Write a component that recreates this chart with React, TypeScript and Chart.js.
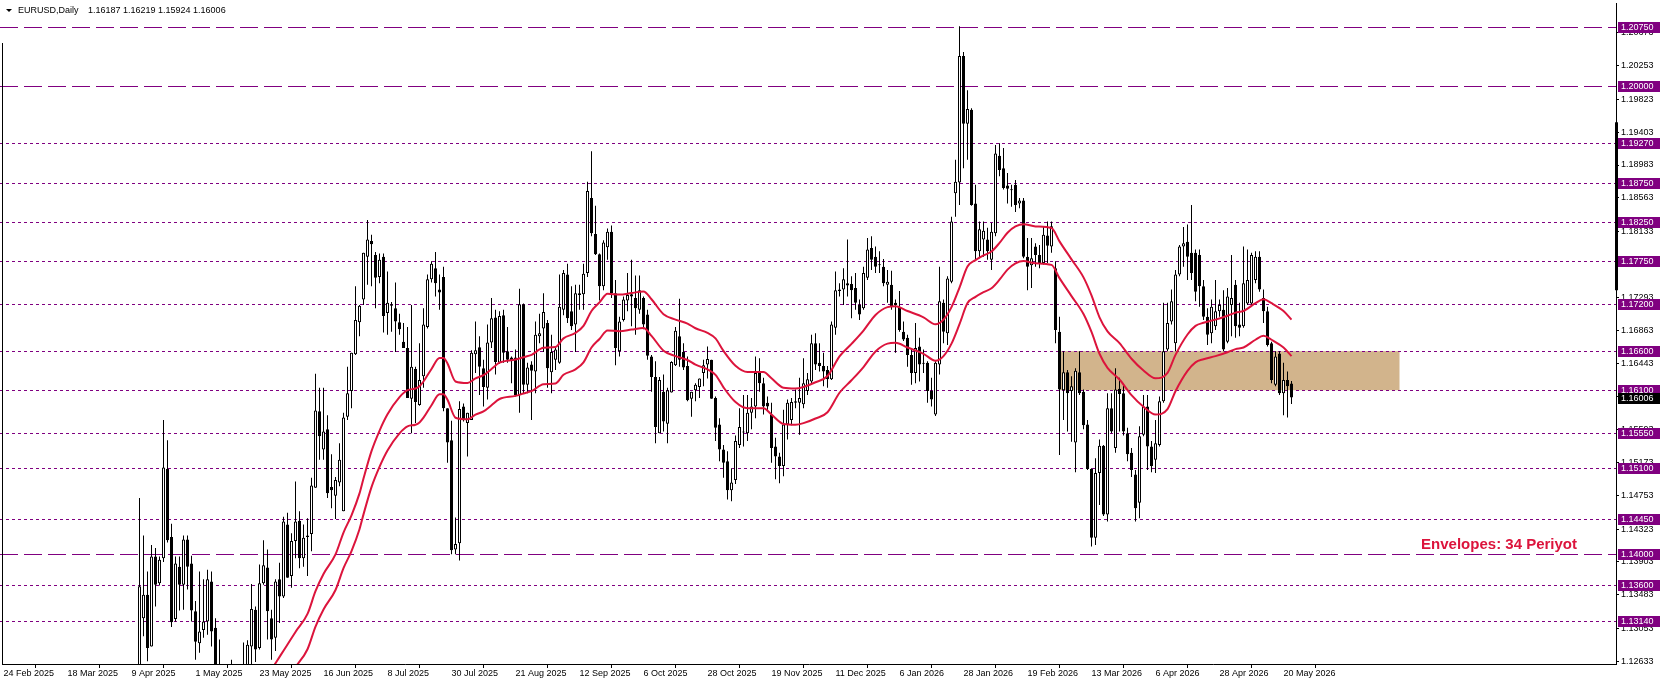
import React, { useEffect, useRef } from "react";
import { Chart, registerables } from "chart.js";

Chart.register(...registerables);

// ---------------- data ----------------
const FIRST_BAR = 34; // bar index of the first candle listed (bar 0 = 24 Feb 2025)

const opens = [
  1.1195, 1.1318, 1.1348, 1.1282, 1.1397, 1.1363, 1.1395, 1.1509, 1.1422, 1.1317,
  1.1384, 1.1361, 1.1419, 1.1388, 1.1327, 1.1286, 1.1303, 1.1314, 1.1365, 1.1306,
  1.1225, 1.1250, 1.1088, 1.1187, 1.1175, 1.1187, 1.1163, 1.1242, 1.1282, 1.1329,
  1.1280, 1.1363, 1.1383, 1.1318, 1.1293, 1.1368, 1.1346, 1.1438, 1.1372, 1.1417,
  1.1443, 1.1395, 1.1424, 1.1426, 1.1485, 1.1583, 1.1534, 1.1560, 1.1486, 1.1475,
  1.1492, 1.1455, 1.1576, 1.1609, 1.1656, 1.1697, 1.1726, 1.1781, 1.1801, 1.1783,
  1.1755, 1.1781, 1.1709, 1.1718, 1.1715, 1.1697, 1.1672, 1.1664, 1.1599, 1.1637,
  1.1591, 1.1628, 1.1691, 1.1752, 1.1766, 1.1739, 1.1755, 1.1587, 1.1546, 1.1406,
  1.1414, 1.1589, 1.1568, 1.1572, 1.1656, 1.1665, 1.1638, 1.1613, 1.1671, 1.1703,
  1.1645, 1.1706, 1.1660, 1.1652, 1.1652, 1.1604, 1.1720, 1.1617, 1.1643, 1.1634,
  1.1679, 1.1689, 1.1696, 1.1633, 1.1649, 1.1645, 1.1713, 1.1758, 1.1711, 1.1694,
  1.1734, 1.1733, 1.1760, 1.1856, 1.1810, 1.1784, 1.1743, 1.1793, 1.1813, 1.1734,
  1.1660, 1.1700, 1.1725, 1.1733, 1.1728, 1.1713, 1.1728, 1.1707, 1.1653, 1.1627,
  1.1555, 1.1608, 1.1567, 1.1607, 1.1642, 1.1679, 1.1659, 1.1641, 1.1599, 1.1610,
  1.1614, 1.1632, 1.1643, 1.1649, 1.1600, 1.1566, 1.1534, 1.1519, 1.1482, 1.1495,
  1.1540, 1.1556, 1.1555, 1.1581, 1.1589, 1.1632, 1.1619, 1.1594, 1.1579, 1.1538,
  1.1525, 1.1513, 1.1566, 1.1572, 1.1594, 1.1594, 1.1592, 1.1609, 1.1621, 1.1670,
  1.1645, 1.1641, 1.1636, 1.1624, 1.1690, 1.1739, 1.1739, 1.1747, 1.1746, 1.1741,
  1.1719, 1.1715, 1.1754, 1.1792, 1.1781, 1.1771, 1.1768, 1.1745, 1.1745, 1.1722,
  1.1717, 1.1685, 1.1677, 1.1655, 1.1632, 1.1666, 1.1645, 1.1645, 1.1609, 1.1579,
  1.1643, 1.1722, 1.1683, 1.1749, 1.1862, 1.1876, 1.2038, 1.1951, 1.1969, 1.1849,
  1.1788, 1.1803, 1.1803, 1.1777, 1.1811, 1.1910, 1.1894, 1.1872, 1.1867, 1.1873,
  1.1849, 1.1853, 1.1781, 1.1770, 1.1794, 1.1783, 1.1773, 1.1808, 1.1794, 1.1766,
  1.1685, 1.1610, 1.1633, 1.1609, 1.1543, 1.1633, 1.1608, 1.1566, 1.1509, 1.1421,
  1.1504, 1.1539, 1.1451, 1.1587, 1.1536, 1.1612, 1.1606, 1.1555, 1.1530, 1.1502,
  1.1466, 1.1553, 1.1589, 1.1538, 1.1521, 1.1540, 1.1596, 1.1662, 1.1698, 1.1670,
  1.1758, 1.1794, 1.1800, 1.1786, 1.1786, 1.1783, 1.1743, 1.1704, 1.1683, 1.1692,
  1.1711, 1.1713, 1.1672, 1.1719, 1.1745, 1.1694, 1.1692, 1.1721, 1.1721, 1.1751,
  1.1781, 1.1728, 1.1711, 1.1670, 1.1617, 1.1657, 1.1606, 1.1623, 1.16187,
];

const highs = [
  1.1472, 1.1424, 1.1378, 1.1412, 1.1408, 1.1397, 1.1572, 1.1546, 1.1439, 1.1397,
  1.1397, 1.1424, 1.1424, 1.1398, 1.1340, 1.1378, 1.1368, 1.1380, 1.1378, 1.1318,
  1.1291, 1.1255, 1.1190, 1.1265, 1.1222, 1.1212, 1.1287, 1.1290, 1.1362, 1.1333,
  1.1387, 1.1418, 1.1406, 1.1329, 1.1368, 1.1389, 1.1448, 1.1453, 1.1427, 1.1493,
  1.1455, 1.1438, 1.1446, 1.1498, 1.1631, 1.1613, 1.1613, 1.1578, 1.1528, 1.1499,
  1.1542, 1.1581, 1.1640, 1.1658, 1.1743, 1.1719, 1.1786, 1.1828, 1.1809, 1.1787,
  1.1785, 1.1785, 1.1762, 1.1723, 1.1748, 1.1708, 1.1696, 1.1691, 1.1719, 1.1640,
  1.1670, 1.1715, 1.1758, 1.1775, 1.1787, 1.1758, 1.1768, 1.1587, 1.1571, 1.1447,
  1.1596, 1.1593, 1.1581, 1.1661, 1.1698, 1.1679, 1.1649, 1.1694, 1.1728, 1.1713,
  1.1711, 1.1713, 1.1691, 1.1653, 1.1662, 1.1740, 1.1721, 1.1645, 1.1647, 1.1698,
  1.1708, 1.1734, 1.1700, 1.1681, 1.1666, 1.1758, 1.1764, 1.1772, 1.1743, 1.1745,
  1.1745, 1.1772, 1.1877, 1.1916, 1.1846, 1.1785, 1.1802, 1.1817, 1.1821, 1.1751,
  1.1704, 1.1730, 1.1760, 1.1777, 1.1757, 1.1757, 1.1730, 1.1713, 1.1655, 1.1647,
  1.1627, 1.1630, 1.1613, 1.1647, 1.1691, 1.1727, 1.1670, 1.1653, 1.1608, 1.1619,
  1.1625, 1.1649, 1.1666, 1.1649, 1.1602, 1.1574, 1.1540, 1.1532, 1.1510, 1.1552,
  1.1587, 1.1604, 1.1604, 1.1600, 1.1653, 1.1651, 1.1626, 1.1602, 1.1594, 1.1549,
  1.1530, 1.1585, 1.1598, 1.1600, 1.1611, 1.1626, 1.1651, 1.1632, 1.1681, 1.1683,
  1.1670, 1.1658, 1.1641, 1.1698, 1.1762, 1.1747, 1.1766, 1.1803, 1.1756, 1.1760,
  1.1726, 1.1768, 1.1805, 1.1807, 1.1794, 1.1788, 1.1778, 1.1764, 1.1763, 1.1726,
  1.1737, 1.1698, 1.1681, 1.1664, 1.1696, 1.1677, 1.1662, 1.1647, 1.1626, 1.1647,
  1.1768, 1.1726, 1.1756, 1.1832, 1.1905, 1.2076, 1.2043, 1.1994, 1.1971, 1.1873,
  1.1826, 1.1826, 1.1818, 1.1824, 1.1924, 1.1926, 1.1920, 1.1888, 1.1873, 1.1879,
  1.1856, 1.1856, 1.1805, 1.1805, 1.1798, 1.1796, 1.1819, 1.1826, 1.1826, 1.1775,
  1.1704, 1.1660, 1.1636, 1.1628, 1.1638, 1.1660, 1.1611, 1.1572, 1.1510, 1.1523,
  1.1547, 1.1540, 1.1606, 1.1606, 1.1638, 1.1626, 1.1616, 1.1562, 1.1536, 1.1508,
  1.1564, 1.1604, 1.1604, 1.1545, 1.1572, 1.1602, 1.1722, 1.1722, 1.1739, 1.1764,
  1.1796, 1.1819, 1.1822, 1.1847, 1.1790, 1.1790, 1.1751, 1.1715, 1.1726, 1.1751,
  1.1726, 1.1738, 1.1741, 1.1783, 1.1751, 1.1722, 1.1794, 1.1790, 1.1786, 1.1788,
  1.1788, 1.1739, 1.1717, 1.1672, 1.1660, 1.1660, 1.1645, 1.1634, 1.16219,
];

const lows = [
  1.1190, 1.1295, 1.1263, 1.1282, 1.1333, 1.1360, 1.1390, 1.1415, 1.1307, 1.1314,
  1.1328, 1.1329, 1.1355, 1.1314, 1.1265, 1.1274, 1.1293, 1.1297, 1.1282, 1.1210,
  1.1194, 1.1065, 1.1068, 1.1170, 1.1130, 1.1131, 1.1148, 1.1205, 1.1256, 1.1262,
  1.1278, 1.1361, 1.1291, 1.1265, 1.1276, 1.1312, 1.1344, 1.1370, 1.1357, 1.1395,
  1.1382, 1.1384, 1.1372, 1.1404, 1.1485, 1.1521, 1.1521, 1.1472, 1.1459, 1.1445,
  1.1487, 1.1455, 1.1572, 1.1587, 1.1655, 1.1679, 1.1719, 1.1745, 1.1743, 1.1715,
  1.1747, 1.1684, 1.1681, 1.1685, 1.1659, 1.1681, 1.1664, 1.1600, 1.1555, 1.1568,
  1.1590, 1.1613, 1.1689, 1.1748, 1.1730, 1.1713, 1.1583, 1.1517, 1.1400, 1.1400,
  1.1392, 1.1570, 1.1525, 1.1572, 1.1632, 1.1604, 1.1589, 1.1598, 1.1664, 1.1630,
  1.1644, 1.1645, 1.1645, 1.1619, 1.1602, 1.1581, 1.1606, 1.1606, 1.1572, 1.1606,
  1.1670, 1.1659, 1.1613, 1.1606, 1.1636, 1.1644, 1.1706, 1.1696, 1.1687, 1.1659,
  1.1713, 1.1713, 1.1755, 1.1807, 1.1783, 1.1725, 1.1738, 1.1777, 1.1728, 1.1642,
  1.1653, 1.1698, 1.1711, 1.1692, 1.1681, 1.1708, 1.1688, 1.1649, 1.1608, 1.1542,
  1.1555, 1.1557, 1.1542, 1.1607, 1.1641, 1.1640, 1.1636, 1.1596, 1.1576, 1.1596,
  1.1600, 1.1615, 1.1625, 1.1599, 1.1545, 1.1519, 1.1498, 1.1470, 1.1468, 1.1490,
  1.1536, 1.1538, 1.1545, 1.1560, 1.1574, 1.1608, 1.1579, 1.1583, 1.1517, 1.1496,
  1.1491, 1.1500, 1.1547, 1.1565, 1.1587, 1.1553, 1.1587, 1.1604, 1.1619, 1.1636,
  1.1634, 1.1615, 1.1613, 1.1623, 1.1681, 1.1730, 1.1719, 1.1730, 1.1702, 1.1713,
  1.1700, 1.1713, 1.1751, 1.1764, 1.1760, 1.1760, 1.1743, 1.1722, 1.1713, 1.1658,
  1.1685, 1.1673, 1.1640, 1.1617, 1.1619, 1.1621, 1.1632, 1.1594, 1.1589, 1.1577,
  1.1630, 1.1670, 1.1668, 1.1747, 1.1832, 1.1847, 1.1894, 1.1905, 1.1846, 1.1777,
  1.1779, 1.1781, 1.1777, 1.1764, 1.1807, 1.1884, 1.1867, 1.1849, 1.1845, 1.1838,
  1.1843, 1.1779, 1.1738, 1.1741, 1.1768, 1.1766, 1.1771, 1.1773, 1.1786, 1.1670,
  1.1527, 1.1572, 1.1557, 1.1544, 1.1505, 1.1604, 1.1560, 1.1508, 1.1410, 1.1412,
  1.1463, 1.1449, 1.1442, 1.1555, 1.1530, 1.1557, 1.1552, 1.1519, 1.1499, 1.1442,
  1.1446, 1.1551, 1.1508, 1.1505, 1.1504, 1.1538, 1.1594, 1.1660, 1.1694, 1.1660,
  1.1756, 1.1768, 1.1751, 1.1751, 1.1724, 1.1717, 1.1700, 1.1668, 1.1670, 1.1687,
  1.1704, 1.1660, 1.1670, 1.1679, 1.1677, 1.1679, 1.1690, 1.1719, 1.1719, 1.1747,
  1.1736, 1.1696, 1.1666, 1.1619, 1.1615, 1.1604, 1.1578, 1.1575, 1.15924,
];

const closes = [
  1.1359, 1.1348, 1.1280, 1.1397, 1.1361, 1.1393, 1.1511, 1.1418, 1.1313, 1.1388,
  1.1361, 1.1419, 1.1384, 1.1328, 1.1288, 1.1301, 1.1314, 1.1368, 1.1301, 1.1225,
  1.1250, 1.1088, 1.1187, 1.1175, 1.1187, 1.1163, 1.1242, 1.1284, 1.1330, 1.1278,
  1.1363, 1.1386, 1.1327, 1.1291, 1.1365, 1.1346, 1.1442, 1.1370, 1.1417, 1.1442,
  1.1395, 1.1421, 1.1422, 1.1488, 1.1584, 1.1551, 1.1557, 1.1478, 1.1482, 1.1495,
  1.1521, 1.1575, 1.1606, 1.1658, 1.1700, 1.1718, 1.1786, 1.1803, 1.1797, 1.1754,
  1.1777, 1.1705, 1.1722, 1.1720, 1.1698, 1.1688, 1.1664, 1.1600, 1.1640, 1.1595,
  1.1623, 1.1694, 1.1752, 1.1772, 1.1747, 1.1735, 1.1587, 1.1543, 1.1405, 1.1413,
  1.1586, 1.1572, 1.1581, 1.1658, 1.1661, 1.1640, 1.1614, 1.1671, 1.1702, 1.1646,
  1.1705, 1.1658, 1.1649, 1.1648, 1.1604, 1.1720, 1.1617, 1.1639, 1.1635, 1.1681,
  1.1683, 1.1710, 1.1638, 1.1659, 1.1662, 1.1717, 1.1760, 1.1702, 1.1692, 1.1734,
  1.1732, 1.1759, 1.1865, 1.1811, 1.1784, 1.1743, 1.1799, 1.1813, 1.1734, 1.1664,
  1.1698, 1.1726, 1.1732, 1.1730, 1.1715, 1.1738, 1.1694, 1.1654, 1.1627, 1.1563,
  1.1623, 1.1570, 1.1610, 1.1646, 1.1686, 1.1649, 1.1639, 1.1597, 1.1608, 1.1617,
  1.1625, 1.1642, 1.1650, 1.1599, 1.1562, 1.1534, 1.1517, 1.1482, 1.1492, 1.1545,
  1.1563, 1.1557, 1.1581, 1.1589, 1.1632, 1.1619, 1.1589, 1.1589, 1.1536, 1.1525,
  1.1513, 1.1566, 1.1594, 1.1595, 1.1596, 1.1600, 1.1619, 1.1624, 1.1670, 1.1643,
  1.1641, 1.1634, 1.1624, 1.1694, 1.1738, 1.1737, 1.1752, 1.1744, 1.1738, 1.1722,
  1.1707, 1.1760, 1.1790, 1.1777, 1.1768, 1.1770, 1.1747, 1.1749, 1.1717, 1.1719,
  1.1687, 1.1675, 1.1655, 1.1632, 1.1664, 1.1643, 1.1644, 1.1609, 1.1598, 1.1645,
  1.1724, 1.1685, 1.1753, 1.1826, 1.1877, 1.2038, 1.1951, 1.1970, 1.1847, 1.1788,
  1.1816, 1.1814, 1.1788, 1.1813, 1.1913, 1.1892, 1.1869, 1.1868, 1.1866, 1.1847,
  1.1853, 1.1781, 1.1768, 1.1779, 1.1783, 1.1773, 1.1809, 1.1795, 1.1820, 1.1687,
  1.1611, 1.1633, 1.1606, 1.1615, 1.1635, 1.1606, 1.1565, 1.1509, 1.1421, 1.1504,
  1.1539, 1.1451, 1.1587, 1.1557, 1.1611, 1.1605, 1.1557, 1.1528, 1.1508, 1.1459,
  1.1551, 1.1589, 1.1538, 1.1513, 1.1542, 1.1596, 1.1660, 1.1696, 1.1724, 1.1758,
  1.1794, 1.1798, 1.1781, 1.1760, 1.1736, 1.1743, 1.1704, 1.1681, 1.1717, 1.1711,
  1.1719, 1.1662, 1.1730, 1.1728, 1.1692, 1.1690, 1.1747, 1.1751, 1.1783, 1.1781,
  1.1739, 1.1711, 1.1668, 1.1623, 1.1653, 1.1606, 1.1623, 1.1615, 1.16006,
];

// Envelopes (34): middle line read at these bars, bands at +/- deviation
const envBars = [
  60, 64, 68, 70, 73, 76, 78, 80, 83, 85, 87, 89, 90, 92, 94, 96, 99, 101, 103, 104,
  105, 107, 109, 110, 111, 113, 116, 118, 120, 122, 124, 128, 130, 132, 135, 138, 140, 143, 145, 147,
  149, 151, 154, 157, 160, 162, 165, 168, 171, 173, 176, 178, 180, 183, 186, 190, 192, 195, 198, 200,
  203, 206, 209, 212, 215, 218, 221, 223, 226, 230, 233, 235, 237, 239, 241, 243, 245, 247, 249, 251,
  253, 255, 258, 262, 264, 267, 270, 272, 274, 276, 279, 282, 285, 288, 291, 293, 296, 298, 300, 303,
  306, 308, 310, 313, 315, 317, 320, 322,
];
const envMid = [
  1.1180, 1.1207, 1.1238, 1.1254, 1.1278, 1.1301, 1.1330, 1.1352, 1.1377, 1.1405,
  1.1427, 1.1455, 1.1474, 1.1509, 1.1535, 1.1556, 1.1578, 1.1587, 1.1589, 1.1592,
  1.1598, 1.1614, 1.1628, 1.1628, 1.1621, 1.1598, 1.1596, 1.1602, 1.1606, 1.1614,
  1.1622, 1.1626, 1.1629, 1.1632, 1.1641, 1.1642, 1.1653, 1.1660, 1.1669, 1.1688,
  1.1699, 1.1710, 1.1709, 1.1711, 1.1713, 1.1703, 1.1684, 1.1677, 1.1672, 1.1666,
  1.1660, 1.1653, 1.1637, 1.1618, 1.1610, 1.1610, 1.1602, 1.1590, 1.1589, 1.1591,
  1.1597, 1.1605, 1.1630, 1.1646, 1.1663, 1.1683, 1.1693, 1.1694, 1.1688, 1.1680,
  1.1671, 1.1677, 1.1693, 1.1718, 1.1745, 1.1753, 1.1759, 1.1764, 1.1775, 1.1788,
  1.1796, 1.1799, 1.1796, 1.1794, 1.1777, 1.1754, 1.1731, 1.1708, 1.1680, 1.1662,
  1.1647, 1.1627, 1.1612, 1.1602, 1.1609, 1.1632, 1.1658, 1.1669, 1.1673, 1.1677,
  1.1682, 1.1686, 1.1688, 1.1698, 1.1703, 1.1698, 1.1688, 1.1677,
];
const envDeviation = 0.002;

const xTickBars = [0, 16, 32, 48, 64, 80, 96, 112, 128, 144, 160, 176, 192, 208, 224, 240, 256, 272, 288, 304, 320];
const xTickLabels = [
  "24 Feb 2025", "18 Mar 2025", "9 Apr 2025", "1 May 2025", "23 May 2025", "16 Jun 2025",
  "8 Jul 2025", "30 Jul 2025", "21 Aug 2025", "12 Sep 2025", "6 Oct 2025", "28 Oct 2025",
  "19 Nov 2025", "11 Dec 2025", "6 Jan 2026", "28 Jan 2026", "19 Feb 2026", "13 Mar 2026",
  "6 Apr 2026", "28 Apr 2026", "20 May 2026",
];
const yTickValues = [
  1.20673, 1.20253, 1.19823, 1.19403, 1.18983, 1.18563, 1.18133, 1.17713, 1.17293, 1.16863,
  1.16443, 1.16023, 1.15593, 1.15173, 1.14753, 1.14323, 1.13903, 1.13483, 1.13053, 1.12633,
];

const longDashLevels = [1.2075, 1.2, 1.14];
const dotLevels = [1.1927, 1.1875, 1.1825, 1.1775, 1.172, 1.166, 1.161, 1.1555, 1.151, 1.1445, 1.136, 1.1314];

const zoneBars = [264, 349];
const zonePrices = [1.161, 1.166];
const lastPrice = 1.16006;
const axisMarker = [1.1738, 1.1953];

const symbolTitle = "EURUSD,Daily";
const titleValues = "1.16187 1.16219 1.15924 1.16006";
const indicatorNote = "Envelopes: 34 Periyot";

const Y_MIN = 1.12595;
const Y_MAX = 1.21057;
const X_MIN = -0.375;
const X_MAX = 403.125;

// ---------------- styles ----------------
const FONT = "'Liberation Sans', Arial, sans-serif";
const PURPLE = "#800080";
const ENV_RED = "#DC143C";

const overlayPlugin = {
  id: "mt4Overlay",
  beforeDatasetsDraw(chart: any) {
    const { ctx, chartArea, scales } = chart;
    const xs = scales.x;
    const ys = scales.y;
    ctx.save();
    // zone rectangle
    const zx1 = xs.getPixelForValue(zoneBars[0]) - 0.5;
    const zx2 = xs.getPixelForValue(zoneBars[1]);
    const zy1 = ys.getPixelForValue(zonePrices[1]);
    const zy2 = ys.getPixelForValue(zonePrices[0]);
    ctx.fillStyle = "#D2B48C";
    ctx.fillRect(zx1, zy1, zx2 - zx1, zy2 - zy1);
    // horizontal levels
    ctx.strokeStyle = PURPLE;
    ctx.lineWidth = 1;
    const drawLevel = (v: number, dash: number[]) => {
      const y = Math.round(ys.getPixelForValue(v)) + 0.5;
      ctx.setLineDash(dash);
      ctx.beginPath();
      ctx.moveTo(0, y);
      ctx.lineTo(chartArea.right, y);
      ctx.stroke();
    };
    longDashLevels.forEach((v) => drawLevel(v, [18, 6]));
    dotLevels.forEach((v) => drawLevel(v, [3, 3]));
    ctx.setLineDash([]);
    ctx.restore();
  },
  afterDraw(chart: any) {
    const { ctx, chartArea, scales } = chart;
    const ys = scales.y;
    ctx.save();
    // marker on the price axis
    const my1 = ys.getPixelForValue(axisMarker[1]);
    const my2 = ys.getPixelForValue(axisMarker[0]);
    ctx.fillStyle = "#000";
    ctx.fillRect(chartArea.right - 1, my1, 3, my2 - my1);
    // level labels
    ctx.font = `9px ${FONT}`;
    ctx.textBaseline = "middle";
    ctx.textAlign = "left";
    const boxX = chartArea.right + 2;
    const label = (v: number, bg: string) => {
      const y = Math.round(ys.getPixelForValue(v));
      ctx.fillStyle = bg;
      ctx.fillRect(boxX, y - 5, 42, 11);
      ctx.fillStyle = "#fff";
      ctx.fillText(v.toFixed(5), boxX + 3, y + 0.5);
    };
    [...longDashLevels, ...dotLevels].forEach((v) => label(v, PURPLE));
    label(lastPrice, "#000");
    // left border
    ctx.fillStyle = "#000";
    ctx.fillRect(chartArea.left, 43, 1, chartArea.bottom - 43);
    // title
    ctx.beginPath();
    ctx.moveTo(6, 9);
    ctx.lineTo(12, 9);
    ctx.lineTo(9, 12);
    ctx.closePath();
    ctx.fill();
    ctx.font = `9px ${FONT}`;
    ctx.fillText(symbolTitle, 18, 11);
    ctx.fillText(titleValues, 88, 11);
    // indicator note
    ctx.font = `bold 15px ${FONT}`;
    ctx.fillStyle = ENV_RED;
    ctx.textAlign = "right";
    ctx.fillText(indicatorNote, 1577, 545);
    ctx.restore();
  },
};

export default function App() {
  const canvasRef = useRef<HTMLCanvasElement | null>(null);

  useEffect(() => {
    document.body.style.margin = "0";
    const canvas = canvasRef.current;
    if (!canvas) return;

    const bars = opens.map((_, i) => FIRST_BAR + i);
    const wickData = bars.map((k, i) => ({ x: k, y: [lows[i], highs[i]] }));
    const bodyData = bars.map((k, i) => ({ x: k, y: [opens[i], closes[i]] }));
    const bodyColors = bars.map((_, i) => (closes[i] >= opens[i] ? "#ffffff" : "#000000"));
    const upper = envBars.map((k, i) => ({ x: k, y: envMid[i] * (1 + envDeviation) }));
    const lower = envBars.map((k, i) => ({ x: k, y: envMid[i] * (1 - envDeviation) }));

    const chart = new Chart(canvas, {
      type: "bar",
      data: {
        datasets: [
          {
            type: "line",
            data: upper,
            borderColor: ENV_RED,
            borderWidth: 2,
            pointRadius: 0,
            fill: false,
            cubicInterpolationMode: "monotone",
            order: 0,
          } as any,
          {
            type: "line",
            data: lower,
            borderColor: ENV_RED,
            borderWidth: 2,
            pointRadius: 0,
            fill: false,
            cubicInterpolationMode: "monotone",
            order: 0,
          } as any,
          {
            type: "bar",
            data: bodyData,
            backgroundColor: bodyColors,
            borderColor: "#000",
            borderWidth: 1,
            borderSkipped: false,
            barThickness: 3,
            minBarLength: 1,
            grouped: false,
            inflateAmount: 0,
            order: 1,
          } as any,
          {
            type: "bar",
            data: wickData,
            backgroundColor: "#000",
            borderWidth: 0,
            barThickness: 1,
            grouped: false,
            inflateAmount: 0,
            order: 2,
          } as any,
        ],
      },
      options: {
        animation: false,
        responsive: false,
        events: [],
        layout: { padding: { left: 2, top: 3, right: 0, bottom: 0 } },
        plugins: { legend: { display: false }, tooltip: { enabled: false } },
        scales: {
          x: {
            type: "linear",
            min: X_MIN,
            max: X_MAX,
            offset: false,
            grid: { drawOnChartArea: false, drawTicks: true, tickLength: 4, color: "#000", lineWidth: 1 },
            border: { display: true, color: "#000", width: 1 },
            ticks: {
              autoSkip: false,
              maxRotation: 0,
              minRotation: 0,
              align: "start",
              padding: 0,
              color: "#000",
              font: { family: FONT, size: 9 },
              callback: (_v: any, i: number) => xTickLabels[i] ?? "",
            },
            afterBuildTicks: (s: any) => {
              s.ticks = xTickBars.map((v) => ({ value: v }));
            },
            afterFit: (s: any) => {
              s.height = 21;
              s.paddingLeft = 0;
              s.paddingRight = 0;
            },
          } as any,
          y: {
            type: "linear",
            position: "right",
            min: Y_MIN,
            max: Y_MAX,
            grid: { drawOnChartArea: false, drawTicks: true, tickLength: 3, color: "#000" },
            border: { display: true, color: "#000", width: 1 },
            ticks: {
              padding: 2,
              color: "#000",
              font: { family: FONT, size: 9 },
              callback: (v: any) => Number(v).toFixed(5),
            },
            afterBuildTicks: (s: any) => {
              s.ticks = yTickValues.map((v) => ({ value: v }));
            },
            afterFit: (s: any) => {
              s.width = 46;
              s.paddingTop = 0;
              s.paddingBottom = 0;
            },
          } as any,
        },
      },
      plugins: [overlayPlugin],
    });

    return () => chart.destroy();
  }, []);

  return (
    <div style={{ width: 1662, height: 685, background: "#fff" }}>
      <canvas ref={canvasRef} width={1662} height={685} style={{ display: "block" }} />
    </div>
  );
}
